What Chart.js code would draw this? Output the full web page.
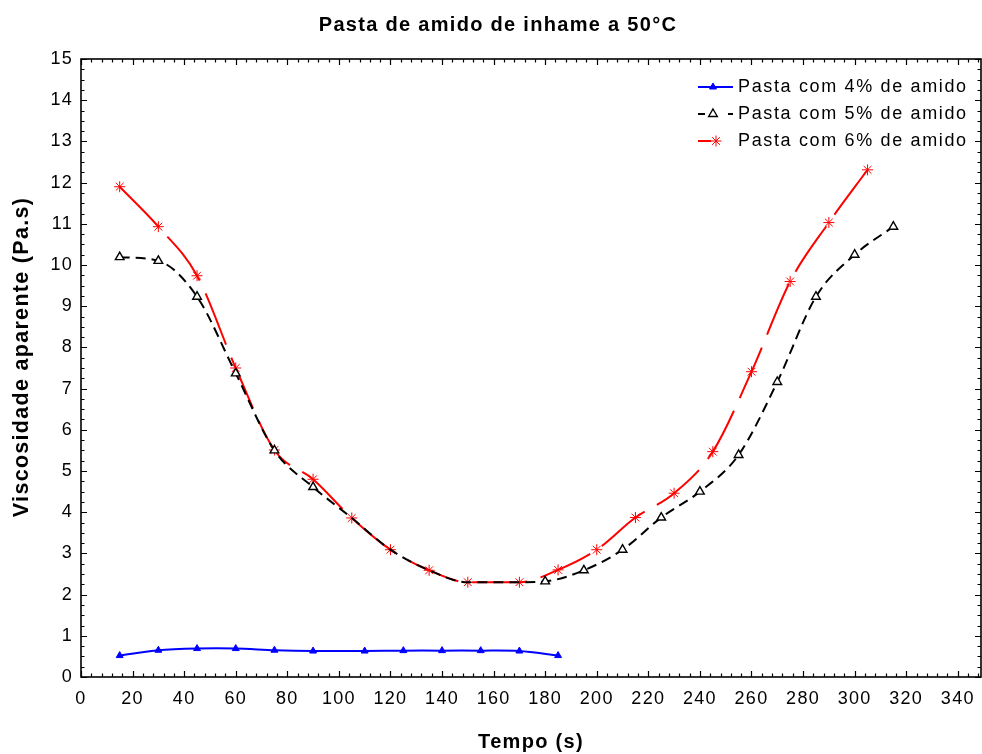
<!DOCTYPE html>
<html>
<head>
<meta charset="utf-8">
<script src="https://cdn.jsdelivr.net/npm/chart.js@4/dist/chart.umd.min.js"></script>
<style>
  html, body { margin: 0; padding: 0; background: #fff; }
  canvas { display: block; }
</style>
</head>
<body>
<canvas id="grafico" width="982" height="754"></canvas>
<script>
// Tempo (s) e viscosidade aparente (Pa.s) de cada pasta
const tempo4 = [15, 30, 45, 60, 75, 90, 110, 125, 140, 155, 170, 185];
const visc4  = [0.52, 0.65, 0.69, 0.69, 0.65, 0.63, 0.63, 0.64, 0.64, 0.64, 0.63, 0.52];

const tempo5 = [15, 30, 45, 60, 75, 90, 105, 120, 135, 150, 170, 180, 195, 210, 225, 240, 255, 270, 285, 300, 315];
const visc5  = [10.19, 10.1, 9.23, 7.37, 5.5, 4.61, 3.86, 3.09, 2.59, 2.3, 2.3, 2.32, 2.59, 3.09, 3.87, 4.5, 5.39, 7.16, 9.23, 10.25, 10.93];
// pontos sem marcador (a curva só passa por eles)
const semMarcador5 = [105, 120, 135, 150, 170];

const tempo6 = [15, 30, 45, 60, 75, 90, 105, 120, 135, 150, 170, 185, 200, 215, 230, 245, 260, 275, 290, 305];
const visc6  = [11.9, 10.93, 9.74, 7.5, 5.51, 4.8, 3.86, 3.09, 2.59, 2.3, 2.3, 2.6, 3.09, 3.87, 4.46, 5.47, 7.41, 9.6, 11.03, 12.31];

const rotulos = ['Pasta com 4% de amido', 'Pasta com 5% de amido', 'Pasta com 6% de amido'];
const titulo = 'Pasta de amido de inhame a 50°C';
const tituloX = 'Tempo (s)';
const tituloY = 'Viscosidade aparente (Pa.s)';

const FONTE = 'Liberation Sans, Arial, Helvetica, sans-serif';
const pares = (xs, ys) => xs.map((x, i) => ({ x: x, y: ys[i] }));

// espaçamento entre letras, como no gráfico original
const espacamento = {
  id: 'espacamento',
  beforeLayout(chart) { chart.ctx.letterSpacing = '1.3px'; },
  beforeDraw(chart) { chart.ctx.letterSpacing = '1.3px'; }
};

// título do gráfico e título do eixo vertical
const titulos = {
  id: 'titulos',
  afterDraw(chart) {
    const ctx = chart.ctx;
    const area = chart.chartArea;
    ctx.save();
    ctx.fillStyle = '#000';
    ctx.textAlign = 'center';
    ctx.textBaseline = 'middle';
    ctx.letterSpacing = '1.3px';
    ctx.font = 'bold 20px ' + FONTE;
    ctx.fillText(titulo, chart.width / 2 + 7, 25);
    ctx.translate(22, (area.top + area.bottom) / 2 - 11);
    ctx.rotate(-Math.PI / 2);
    ctx.font = 'bold 21.5px ' + FONTE;
    ctx.fillText(tituloY, 0, 0);
    ctx.restore();
  }
};

// moldura com marcas internas nos quatro lados
const moldura = {
  id: 'moldura',
  afterDatasetsDraw(chart) {
    const ctx = chart.ctx;
    const { left, right, top, bottom } = chart.chartArea;
    const xs = chart.scales.x, ys = chart.scales.y;
    ctx.save();
    ctx.strokeStyle = '#000';
    ctx.lineWidth = 1.6;
    ctx.strokeRect(left, top, right - left, bottom - top);
    ctx.lineWidth = 1.2;
    ctx.beginPath();
    for (let i = 0; i <= 60; i++) {
      const v = i * 0.25;
      const y = Math.round(ys.getPixelForValue(v)) + 0.5;
      const len = (i % 4 === 0) ? 6 : 3.5;
      ctx.moveTo(left, y); ctx.lineTo(left + len, y);
      ctx.moveTo(right, y); ctx.lineTo(right - len, y);
    }
    for (let v = 0; v <= xs.max; v += 4) {
      const x = Math.round(xs.getPixelForValue(v)) + 0.5;
      const len = (v % 20 === 0) ? 6 : 3.5;
      ctx.moveTo(x, bottom); ctx.lineTo(x, bottom - len);
      ctx.moveTo(x, top); ctx.lineTo(x, top + len);
    }
    ctx.stroke();
    ctx.restore();
  }
};

// legenda com traço e marcador de cada série
const legenda = {
  id: 'legenda',
  afterDraw(chart) {
    const ctx = chart.ctx;
    const area = chart.chartArea;
    const x0 = area.right - 283;
    const linhas = [area.top + 28, area.top + 55, area.top + 82];
    ctx.save();
    ctx.font = '18px ' + FONTE;
    ctx.letterSpacing = '1.65px';
    ctx.textBaseline = 'middle';
    ctx.textAlign = 'left';
    chart.data.datasets.forEach((ds, i) => {
      const y = linhas[i];
      ctx.strokeStyle = ds.borderColor;
      ctx.lineWidth = ds.borderWidth;
      ctx.beginPath();
      if (i === 0) {
        ctx.moveTo(x0, y); ctx.lineTo(x0 + 35, y);
      } else if (i === 1) {
        ctx.moveTo(x0, y); ctx.lineTo(x0 + 7, y);
        ctx.moveTo(x0 + 30, y); ctx.lineTo(x0 + 35, y);
      } else {
        ctx.moveTo(x0, y); ctx.lineTo(x0 + 13, y);
      }
      ctx.stroke();
      ctx.fillStyle = ds.pointBackgroundColor;
      ctx.strokeStyle = ds.pointBorderColor;
      ctx.lineWidth = ds.pointBorderWidth;
      const px = i === 2 ? x0 + 18 : x0 + 15;
      Chart.helpers.drawPoint(ctx, {
        pointStyle: ds.pointStyle,
        radius: ds.legendRadius,
        rotation: 0,
        borderWidth: ds.pointBorderWidth
      }, px, y);
      ctx.fillStyle = '#000';
      ctx.fillText(ds.label, x0 + 40, y);
    });
    ctx.restore();
  }
};

new Chart(document.getElementById('grafico'), {
  type: 'line',
  data: {
    datasets: [
      {
        label: rotulos[0],
        data: pares(tempo4, visc4),
        borderColor: '#0000ff',
        borderWidth: 2,
        pointStyle: 'triangle',
        pointRadius: 4,
        legendRadius: 4,
        pointBackgroundColor: '#0000ff',
        pointBorderColor: '#0000ff',
        pointBorderWidth: 1,
        tension: 0.3,
        fill: false
      },
      {
        label: rotulos[1],
        data: pares(tempo5, visc5),
        borderColor: '#000000',
        borderWidth: 2,
        borderDash: [10, 6],
        pointStyle: 'triangle',
        pointRadius: tempo5.map(t => semMarcador5.includes(t) ? 0 : 5),
        legendRadius: 5,
        pointBackgroundColor: '#ffffff',
        pointBorderColor: '#000000',
        pointBorderWidth: 1.4,
        cubicInterpolationMode: 'monotone',
        fill: false
      },
      {
        label: rotulos[2],
        data: pares(tempo6, visc6),
        borderColor: '#ff0000',
        borderWidth: 2,
        borderDash: [55, 14],
        pointStyle: 'star',
        pointRadius: 5.5,
        legendRadius: 5.5,
        pointBackgroundColor: '#ff0000',
        pointBorderColor: '#ff0000',
        pointBorderWidth: 1,
        cubicInterpolationMode: 'monotone',
        fill: false
      }
    ]
  },
  options: {
    responsive: false,
    animation: false,
    layout: { autoPadding: false, padding: { left: 0, right: 1, top: 59, bottom: 0 } },
    plugins: {
      legend: { display: false },
      tooltip: { enabled: false },
      title: { display: false }
    },
    scales: {
      x: {
        type: 'linear',
        min: 0,
        max: 349,
        grid: { display: false, drawTicks: false },
        border: { display: false },
        ticks: {
          stepSize: 20,
          includeBounds: false,
          color: '#000',
          padding: 11,
          maxRotation: 0,
          font: { family: FONTE, size: 18 }
        },
        title: {
          display: true,
          text: tituloX,
          color: '#000',
          font: { family: FONTE, size: 20, weight: 'bold', lineHeight: 1.2 },
          padding: { top: 0, bottom: 0 }
        },
        afterFit(s) { s.height = 77; s.paddingLeft = 0; s.paddingRight = 0; }
      },
      y: {
        type: 'linear',
        min: 0,
        max: 15,
        grid: { display: false, drawTicks: false },
        border: { display: false },
        ticks: {
          stepSize: 1,
          color: '#000',
          padding: 8,
          font: { family: FONTE, size: 18 }
        },
        afterFit(s) { s.width = 81; s.paddingTop = 0; s.paddingBottom = 0; }
      }
    }
  },
  plugins: [espacamento, moldura, legenda, titulos]
});
</script>
</body>
</html>
